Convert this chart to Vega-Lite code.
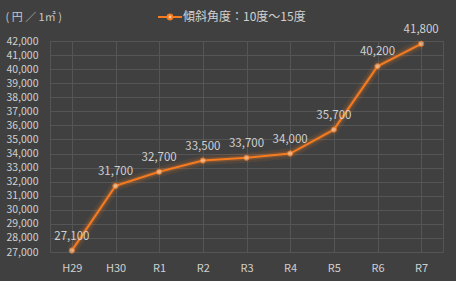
{
  "$schema": "https://vega.github.io/schema/vega-lite/v6.json",
  "autosize": {"type": "none"},
  "width": 393,
  "height": 211,
  "padding": {"left": 50, "top": 41, "right": 13, "bottom": 29},
  "background": "#404040",
  "view": {"stroke": "#555555", "strokeWidth": 1},
  "config": {
    "font": "Noto Sans CJK JP",
    "axis": {"labelColor": "#d0d0d0", "labelFontSize": 11, "gridColor": "#555555", "domain": false, "ticks": false}
  },
  "data": {
    "values": [
      {"year": "H29", "price": 27100, "series": "傾斜角度：10度～15度"},
      {"year": "H30", "price": 31700, "series": "傾斜角度：10度～15度"},
      {"year": "R1", "price": 32700, "series": "傾斜角度：10度～15度"},
      {"year": "R2", "price": 33500, "series": "傾斜角度：10度～15度"},
      {"year": "R3", "price": 33700, "series": "傾斜角度：10度～15度"},
      {"year": "R4", "price": 34000, "series": "傾斜角度：10度～15度"},
      {"year": "R5", "price": 35700, "series": "傾斜角度：10度～15度"},
      {"year": "R6", "price": 40200, "series": "傾斜角度：10度～15度"},
      {"year": "R7", "price": 41800, "series": "傾斜角度：10度～15度"}
    ]
  },
  "encoding": {
    "x": {
      "field": "year", "type": "ordinal", "sort": null,
      "scale": {"paddingInner": 0, "paddingOuter": 0},
      "axis": {"title": null, "labelAngle": 0, "labelPadding": 10, "grid": true}
    },
    "y": {
      "field": "price", "type": "quantitative",
      "scale": {"domain": [27000, 42000], "nice": false, "zero": false},
      "axis": {
        "values": [27000,28000,29000,30000,31000,32000,33000,34000,35000,36000,37000,38000,39000,40000,41000,42000],
        "format": ",.0f", "labelPadding": 12, "grid": true, "labelFontSize": 10.5,
        "title": "( 円 ／ 1㎡ )", "titleAngle": 0, "titleAlign": "left", "titleBaseline": "middle",
        "titleX": -45, "titleY": -24, "titleColor": "#c8c8c8", "titleFontSize": 11, "titleFontWeight": "normal"
      }
    }
  },
  "layer": [
    {"mark": {"type": "line", "color": "#f47b20", "strokeWidth": 10, "opacity": 0.1}},
    {"mark": {"type": "line", "color": "#f47b20", "strokeWidth": 5, "opacity": 0.22}},
    {
      "mark": {"type": "line", "strokeWidth": 2},
      "encoding": {
        "color": {
          "field": "series", "type": "nominal",
          "scale": {"range": ["#f47b20"]},
          "legend": {
            "title": null, "orient": "none", "legendX": 111, "legendY": -33,
            "symbolType": "M-1.5,0H-0.3M0.3,0H1.5M-0.3,0A0.3,0.3 0 1,1 0.3,0A0.3,0.3 0 1,1 -0.3,0",
            "symbolSize": 256, "symbolStrokeWidth": 2, "symbolFillColor": "#f9c8a0",
            "labelColor": "#d0d0d0", "labelFontSize": 12
          }
        }
      }
    },
    {"mark": {"type": "point", "filled": true, "size": 30, "color": "#f9c8a0", "stroke": "#f47b20", "strokeWidth": 1}},
    {"mark": {"type": "text", "dy": -14, "fontSize": 11.5, "color": "#d0d0d0"}, "encoding": {"text": {"field": "price", "type": "quantitative", "format": ",.0f"}}}
  ]
}
